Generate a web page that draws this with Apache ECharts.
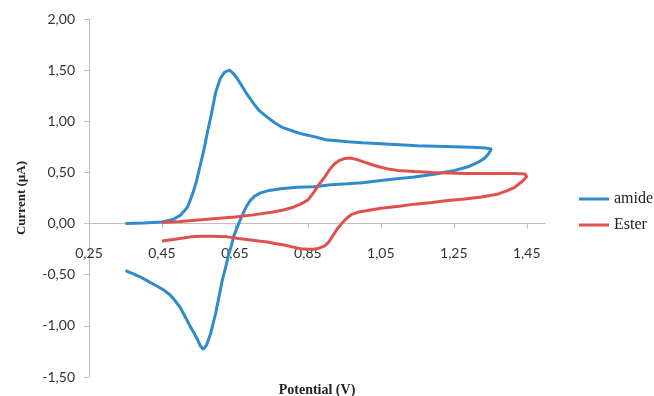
<!DOCTYPE html>
<html>
<head>
<meta charset="utf-8">
<script src="https://cdn.jsdelivr.net/npm/echarts@6/dist/echarts.min.js"></script>
<style>
  html, body { margin: 0; padding: 0; background: #fff; }
  #chart { width: 654px; height: 396px; }
</style>
</head>
<body>
<div id="chart"></div>
<script>
// x tick labels (Potential, V)
var xTicks = [0.25, 0.45, 0.65, 0.85, 1.05, 1.25, 1.45];

// amide scan (potential, current)
var amideX = [0.35, 0.40, 0.45, 0.48, 0.50, 0.52, 0.535, 0.545, 0.555, 0.565, 0.575, 0.585, 0.597, 0.61, 0.622, 0.635, 0.645, 0.656, 0.67, 0.684, 0.70, 0.715, 0.735, 0.757, 0.78, 0.812, 0.84, 0.867, 0.90, 0.93, 0.96, 1.00, 1.05, 1.10, 1.15, 1.20, 1.25, 1.30, 1.335, 1.353,
  1.345, 1.335, 1.317, 1.289, 1.253, 1.20, 1.142, 1.10, 1.05, 1.00, 0.959, 0.913, 0.867, 0.82, 0.775, 0.74, 0.72, 0.705, 0.693, 0.682, 0.675, 0.665, 0.656, 0.647, 0.64, 0.633, 0.625, 0.615, 0.605, 0.597, 0.59, 0.583, 0.572, 0.563,
  0.556, 0.548, 0.538, 0.528, 0.515, 0.50, 0.485, 0.473, 0.455, 0.436, 0.41, 0.39, 0.37, 0.35];
var amideY = [0.00, 0.005, 0.015, 0.04, 0.08, 0.16, 0.30, 0.42, 0.57, 0.72, 0.90, 1.06, 1.28, 1.42, 1.48, 1.50, 1.47, 1.42, 1.34, 1.26, 1.18, 1.11, 1.05, 0.99, 0.94, 0.90, 0.87, 0.85, 0.82, 0.81, 0.80, 0.79, 0.78, 0.77, 0.76, 0.755, 0.75, 0.745, 0.74, 0.73,
  0.68, 0.64, 0.60, 0.555, 0.52, 0.485, 0.455, 0.44, 0.42, 0.40, 0.39, 0.38, 0.36, 0.355, 0.34, 0.32, 0.30, 0.27, 0.23, 0.17, 0.12, 0.04, -0.04, -0.12, -0.22, -0.30, -0.42, -0.56, -0.74, -0.88, -0.98, -1.08, -1.19, -1.23,
  -1.20, -1.14, -1.07, -1.01, -0.92, -0.82, -0.75, -0.70, -0.65, -0.61, -0.56, -0.52, -0.49, -0.46];

// ester scan (potential, current)
var esterX = [0.45, 0.50, 0.55, 0.60, 0.65, 0.70, 0.75, 0.78, 0.81, 0.83, 0.85, 0.867, 0.88, 0.895, 0.91, 0.922, 0.935, 0.95, 0.968, 0.985, 1.005, 1.03, 1.05, 1.075, 1.096, 1.142, 1.19, 1.234, 1.28, 1.326, 1.37, 1.417, 1.445, 1.45,
  1.44, 1.417, 1.395, 1.372, 1.326, 1.28, 1.234, 1.19, 1.142, 1.10, 1.05, 1.01, 0.986, 0.97, 0.959, 0.945, 0.931, 0.92, 0.913, 0.905, 0.895, 0.88, 0.867, 0.85, 0.83, 0.81, 0.785, 0.76, 0.739, 0.715, 0.693, 0.66, 0.629, 0.59, 0.555, 0.53, 0.509, 0.48, 0.45];
var esterY = [0.01, 0.02, 0.035, 0.05, 0.065, 0.085, 0.11, 0.13, 0.16, 0.19, 0.23, 0.31, 0.38, 0.45, 0.53, 0.58, 0.615, 0.635, 0.64, 0.625, 0.60, 0.57, 0.55, 0.53, 0.52, 0.51, 0.50, 0.495, 0.49, 0.49, 0.49, 0.49, 0.485, 0.46,
  0.42, 0.355, 0.32, 0.29, 0.26, 0.24, 0.225, 0.205, 0.19, 0.17, 0.15, 0.125, 0.11, 0.09, 0.06, 0.01, -0.05, -0.11, -0.15, -0.19, -0.22, -0.24, -0.25, -0.25, -0.245, -0.23, -0.21, -0.195, -0.18, -0.17, -0.16, -0.145, -0.13, -0.125, -0.125, -0.13, -0.14, -0.155, -0.17];

function pairs(xs, ys) {
  var out = [];
  for (var i = 0; i < xs.length; i++) out.push([xs[i], ys[i]]);
  return out;
}
function comma(v) {
  return v.toFixed(2).replace('.', ',');
}

var chartObj = echarts.init(document.getElementById('chart'));

// x axis sits on the zero line: shift it up from the grid bottom
// (grid height 358px for 3.5 units -> zero is 1.5 units above bottom)
var zeroOffset = -358 * 1.5 / 3.5;

var option = {
  animation: false,
  backgroundColor: '#fff',
  grid: { left: 89, right: 109, top: 19, bottom: 19, containLabel: false, outerBoundsMode: 'none' },
  legend: {
    orient: 'vertical',
    left: 574,
    top: 186,
    itemGap: 10,
    itemWidth: 30,
    itemHeight: 3,
    icon: 'rect',
    textStyle: { fontFamily: 'Liberation Serif', fontSize: 16, color: '#222' },
    data: ['amide', 'Ester']
  },
  xAxis: {
    type: 'value',
    min: 0.25,
    max: 1.5,
    offset: zeroOffset,
    name: 'Potential (V)',
    nameLocation: 'middle',
    nameGap: 160,
    nameTextStyle: { fontFamily: 'Liberation Serif', fontWeight: 'bold', fontSize: 14, color: '#222' },
    axisLine: { onZero: false, lineStyle: { color: '#c0c0c0', width: 1 } },
    axisTick: { show: true, length: 5, customValues: xTicks, lineStyle: { color: '#c0c0c0' } },
    axisLabel: {
      customValues: xTicks,
      margin: 23,
      fontFamily: 'Lato',
      fontSize: 14,
      color: '#333',
      formatter: comma
    },
    splitLine: { show: false }
  },
  yAxis: {
    type: 'value',
    min: -1.5,
    max: 2,
    interval: 0.5,
    name: 'Current (µA)',
    nameLocation: 'middle',
    nameGap: 61,
    nameTextStyle: { fontFamily: 'Liberation Serif', fontWeight: 'bold', fontSize: 13, color: '#222' },
    axisLine: { show: true, onZero: false, lineStyle: { color: '#c0c0c0', width: 1 } },
    axisTick: { show: true, length: 5, lineStyle: { color: '#c0c0c0' } },
    axisLabel: { margin: 14, fontFamily: 'Lato', fontSize: 14, color: '#333', formatter: comma },
    splitLine: { show: false }
  },
  series: [
    {
      name: 'amide',
      type: 'line',
      showSymbol: false,
      color: '#2f8bcb',
      lineStyle: { width: 3 },
      data: pairs(amideX, amideY)
    },
    {
      name: 'Ester',
      type: 'line',
      showSymbol: false,
      color: '#e0514e',
      lineStyle: { width: 3 },
      data: pairs(esterX, esterY)
    }
  ]
};
chartObj.setOption(option);
</script>
</body>
</html>
